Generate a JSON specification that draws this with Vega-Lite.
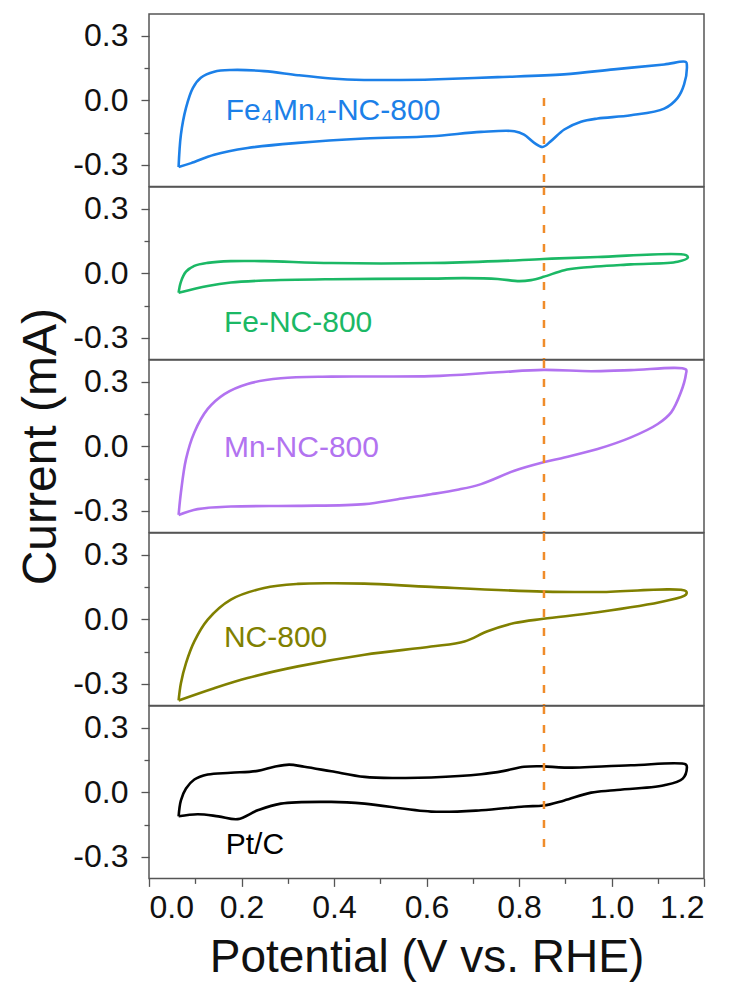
{
  "$schema": "https://vega.github.io/schema/vega-lite/v6.json",
  "background": "white",
  "padding": {"left": 17, "top": 13, "right": 28, "bottom": 4},
  "spacing": 0,
  "bounds": "flush",
  "config": {
    "font": "Liberation Sans",
    "view": {"stroke": "#555555", "strokeWidth": 1.5},
    "axis": {
      "domain": false,
      "grid": false,
      "ticks": true,
      "tickColor": "#555555",
      "tickWidth": 1.3,
      "labelFont": "Liberation Sans",
      "labelFontSize": 32,
      "labelColor": "#111111",
      "titleFont": "Liberation Sans",
      "titleFontSize": 46,
      "titleFontWeight": "normal",
      "titleColor": "#111111"
    },
    "axisY": {"labelPadding": 13, "titlePadding": 7, "titleFontSize": 48},
    "axisX": {"labelPadding": 6, "titlePadding": 12}
  },
  "datasets": {
    "cv": [
      {"s": "Fe4Mn4", "i": 0, "v": 0.064, "c": -0.31},
      {"s": "Fe4Mn4", "i": 1, "v": 0.069, "c": -0.16},
      {"s": "Fe4Mn4", "i": 2, "v": 0.080, "c": -0.036},
      {"s": "Fe4Mn4", "i": 3, "v": 0.095, "c": 0.057},
      {"s": "Fe4Mn4", "i": 4, "v": 0.112, "c": 0.104},
      {"s": "Fe4Mn4", "i": 5, "v": 0.141, "c": 0.132},
      {"s": "Fe4Mn4", "i": 6, "v": 0.177, "c": 0.140},
      {"s": "Fe4Mn4", "i": 7, "v": 0.249, "c": 0.135},
      {"s": "Fe4Mn4", "i": 8, "v": 0.322, "c": 0.116},
      {"s": "Fe4Mn4", "i": 9, "v": 0.394, "c": 0.101},
      {"s": "Fe4Mn4", "i": 10, "v": 0.465, "c": 0.094},
      {"s": "Fe4Mn4", "i": 11, "v": 0.538, "c": 0.094},
      {"s": "Fe4Mn4", "i": 12, "v": 0.610, "c": 0.096},
      {"s": "Fe4Mn4", "i": 13, "v": 0.754, "c": 0.107},
      {"s": "Fe4Mn4", "i": 14, "v": 0.897, "c": 0.120},
      {"s": "Fe4Mn4", "i": 15, "v": 1.005, "c": 0.143},
      {"s": "Fe4Mn4", "i": 16, "v": 1.114, "c": 0.166},
      {"s": "Fe4Mn4", "i": 17, "v": 1.161, "c": 0.177},
      {"s": "Fe4Mn4", "i": 18, "v": 1.163, "c": 0.160},
      {"s": "Fe4Mn4", "i": 19, "v": 1.157, "c": 0.073},
      {"s": "Fe4Mn4", "i": 20, "v": 1.143, "c": 0.011},
      {"s": "Fe4Mn4", "i": 21, "v": 1.114, "c": -0.039},
      {"s": "Fe4Mn4", "i": 22, "v": 1.042, "c": -0.070},
      {"s": "Fe4Mn4", "i": 23, "v": 0.970, "c": -0.085},
      {"s": "Fe4Mn4", "i": 24, "v": 0.934, "c": -0.100},
      {"s": "Fe4Mn4", "i": 25, "v": 0.898, "c": -0.136},
      {"s": "Fe4Mn4", "i": 26, "v": 0.869, "c": -0.190},
      {"s": "Fe4Mn4", "i": 27, "v": 0.851, "c": -0.217},
      {"s": "Fe4Mn4", "i": 28, "v": 0.833, "c": -0.198},
      {"s": "Fe4Mn4", "i": 29, "v": 0.811, "c": -0.160},
      {"s": "Fe4Mn4", "i": 30, "v": 0.790, "c": -0.144},
      {"s": "Fe4Mn4", "i": 31, "v": 0.718, "c": -0.147},
      {"s": "Fe4Mn4", "i": 32, "v": 0.610, "c": -0.167},
      {"s": "Fe4Mn4", "i": 33, "v": 0.466, "c": -0.178},
      {"s": "Fe4Mn4", "i": 34, "v": 0.322, "c": -0.198},
      {"s": "Fe4Mn4", "i": 35, "v": 0.213, "c": -0.222},
      {"s": "Fe4Mn4", "i": 36, "v": 0.141, "c": -0.253},
      {"s": "Fe4Mn4", "i": 37, "v": 0.091, "c": -0.292},
      {"s": "Fe4Mn4", "i": 38, "v": 0.064, "c": -0.31},

      {"s": "Fe", "i": 0, "v": 0.064, "c": -0.091},
      {"s": "Fe", "i": 1, "v": 0.069, "c": -0.040},
      {"s": "Fe", "i": 2, "v": 0.080, "c": 0.007},
      {"s": "Fe", "i": 3, "v": 0.098, "c": 0.034},
      {"s": "Fe", "i": 4, "v": 0.127, "c": 0.048},
      {"s": "Fe", "i": 5, "v": 0.177, "c": 0.056},
      {"s": "Fe", "i": 6, "v": 0.249, "c": 0.056},
      {"s": "Fe", "i": 7, "v": 0.394, "c": 0.047},
      {"s": "Fe", "i": 8, "v": 0.610, "c": 0.047},
      {"s": "Fe", "i": 9, "v": 0.754, "c": 0.056},
      {"s": "Fe", "i": 10, "v": 0.853, "c": 0.066},
      {"s": "Fe", "i": 11, "v": 0.970, "c": 0.075},
      {"s": "Fe", "i": 12, "v": 1.161, "c": 0.084},
      {"s": "Fe", "i": 13, "v": 1.165, "c": 0.072},
      {"s": "Fe", "i": 14, "v": 1.143, "c": 0.053},
      {"s": "Fe", "i": 15, "v": 1.042, "c": 0.041},
      {"s": "Fe", "i": 16, "v": 0.934, "c": 0.025},
      {"s": "Fe", "i": 17, "v": 0.898, "c": 0.014},
      {"s": "Fe", "i": 18, "v": 0.853, "c": -0.017},
      {"s": "Fe", "i": 19, "v": 0.826, "c": -0.032},
      {"s": "Fe", "i": 20, "v": 0.801, "c": -0.037},
      {"s": "Fe", "i": 21, "v": 0.754, "c": -0.027},
      {"s": "Fe", "i": 22, "v": 0.682, "c": -0.023},
      {"s": "Fe", "i": 23, "v": 0.610, "c": -0.025},
      {"s": "Fe", "i": 24, "v": 0.394, "c": -0.028},
      {"s": "Fe", "i": 25, "v": 0.249, "c": -0.034},
      {"s": "Fe", "i": 26, "v": 0.177, "c": -0.043},
      {"s": "Fe", "i": 27, "v": 0.127, "c": -0.059},
      {"s": "Fe", "i": 28, "v": 0.064, "c": -0.091},

      {"s": "Mn", "i": 0, "v": 0.064, "c": -0.319},
      {"s": "Mn", "i": 1, "v": 0.069, "c": -0.215},
      {"s": "Mn", "i": 2, "v": 0.080, "c": -0.060},
      {"s": "Mn", "i": 3, "v": 0.098, "c": 0.064},
      {"s": "Mn", "i": 4, "v": 0.127, "c": 0.173},
      {"s": "Mn", "i": 5, "v": 0.163, "c": 0.242},
      {"s": "Mn", "i": 6, "v": 0.213, "c": 0.289},
      {"s": "Mn", "i": 7, "v": 0.285, "c": 0.315},
      {"s": "Mn", "i": 8, "v": 0.394, "c": 0.323},
      {"s": "Mn", "i": 9, "v": 0.610, "c": 0.325},
      {"s": "Mn", "i": 10, "v": 0.754, "c": 0.343},
      {"s": "Mn", "i": 11, "v": 0.853, "c": 0.354},
      {"s": "Mn", "i": 12, "v": 0.956, "c": 0.348},
      {"s": "Mn", "i": 13, "v": 1.042, "c": 0.353},
      {"s": "Mn", "i": 14, "v": 1.161, "c": 0.356},
      {"s": "Mn", "i": 15, "v": 1.161, "c": 0.335},
      {"s": "Mn", "i": 16, "v": 1.150, "c": 0.250},
      {"s": "Mn", "i": 17, "v": 1.129, "c": 0.157},
      {"s": "Mn", "i": 18, "v": 1.100, "c": 0.103},
      {"s": "Mn", "i": 19, "v": 1.042, "c": 0.041},
      {"s": "Mn", "i": 20, "v": 0.970, "c": -0.013},
      {"s": "Mn", "i": 21, "v": 0.898, "c": -0.052},
      {"s": "Mn", "i": 22, "v": 0.853, "c": -0.075},
      {"s": "Mn", "i": 23, "v": 0.790, "c": -0.114},
      {"s": "Mn", "i": 24, "v": 0.718, "c": -0.176},
      {"s": "Mn", "i": 25, "v": 0.667, "c": -0.202},
      {"s": "Mn", "i": 26, "v": 0.610, "c": -0.223},
      {"s": "Mn", "i": 27, "v": 0.538, "c": -0.246},
      {"s": "Mn", "i": 28, "v": 0.466, "c": -0.269},
      {"s": "Mn", "i": 29, "v": 0.322, "c": -0.277},
      {"s": "Mn", "i": 30, "v": 0.177, "c": -0.280},
      {"s": "Mn", "i": 31, "v": 0.105, "c": -0.292},
      {"s": "Mn", "i": 32, "v": 0.064, "c": -0.319},

      {"s": "NC", "i": 0, "v": 0.064, "c": -0.377},
      {"s": "NC", "i": 1, "v": 0.069, "c": -0.297},
      {"s": "NC", "i": 2, "v": 0.080, "c": -0.204},
      {"s": "NC", "i": 3, "v": 0.098, "c": -0.103},
      {"s": "NC", "i": 4, "v": 0.127, "c": -0.002},
      {"s": "NC", "i": 5, "v": 0.177, "c": 0.091},
      {"s": "NC", "i": 6, "v": 0.249, "c": 0.145},
      {"s": "NC", "i": 7, "v": 0.322, "c": 0.164},
      {"s": "NC", "i": 8, "v": 0.394, "c": 0.167},
      {"s": "NC", "i": 9, "v": 0.466, "c": 0.165},
      {"s": "NC", "i": 10, "v": 0.610, "c": 0.150},
      {"s": "NC", "i": 11, "v": 0.853, "c": 0.128},
      {"s": "NC", "i": 12, "v": 0.970, "c": 0.126},
      {"s": "NC", "i": 13, "v": 1.161, "c": 0.130},
      {"s": "NC", "i": 14, "v": 1.161, "c": 0.114},
      {"s": "NC", "i": 15, "v": 1.114, "c": 0.083},
      {"s": "NC", "i": 16, "v": 0.970, "c": 0.032},
      {"s": "NC", "i": 17, "v": 0.853, "c": 0.002},
      {"s": "NC", "i": 18, "v": 0.790, "c": -0.018},
      {"s": "NC", "i": 19, "v": 0.732, "c": -0.056},
      {"s": "NC", "i": 20, "v": 0.682, "c": -0.103},
      {"s": "NC", "i": 21, "v": 0.610, "c": -0.127},
      {"s": "NC", "i": 22, "v": 0.466, "c": -0.165},
      {"s": "NC", "i": 23, "v": 0.322, "c": -0.219},
      {"s": "NC", "i": 24, "v": 0.213, "c": -0.273},
      {"s": "NC", "i": 25, "v": 0.141, "c": -0.320},
      {"s": "NC", "i": 26, "v": 0.064, "c": -0.377},

      {"s": "PtC", "i": 0, "v": 0.064, "c": -0.112},
      {"s": "PtC", "i": 1, "v": 0.069, "c": -0.038},
      {"s": "PtC", "i": 2, "v": 0.080, "c": 0.017},
      {"s": "PtC", "i": 3, "v": 0.098, "c": 0.059},
      {"s": "PtC", "i": 4, "v": 0.127, "c": 0.082},
      {"s": "PtC", "i": 5, "v": 0.177, "c": 0.090},
      {"s": "PtC", "i": 6, "v": 0.235, "c": 0.099},
      {"s": "PtC", "i": 7, "v": 0.271, "c": 0.118},
      {"s": "PtC", "i": 8, "v": 0.303, "c": 0.128},
      {"s": "PtC", "i": 9, "v": 0.336, "c": 0.118},
      {"s": "PtC", "i": 10, "v": 0.394, "c": 0.097},
      {"s": "PtC", "i": 11, "v": 0.466, "c": 0.071},
      {"s": "PtC", "i": 12, "v": 0.538, "c": 0.066},
      {"s": "PtC", "i": 13, "v": 0.610, "c": 0.068},
      {"s": "PtC", "i": 14, "v": 0.718, "c": 0.083},
      {"s": "PtC", "i": 15, "v": 0.768, "c": 0.099},
      {"s": "PtC", "i": 16, "v": 0.811, "c": 0.118},
      {"s": "PtC", "i": 17, "v": 0.853, "c": 0.120},
      {"s": "PtC", "i": 18, "v": 0.898, "c": 0.114},
      {"s": "PtC", "i": 19, "v": 1.042, "c": 0.125},
      {"s": "PtC", "i": 20, "v": 1.161, "c": 0.128},
      {"s": "PtC", "i": 21, "v": 1.163, "c": 0.114},
      {"s": "PtC", "i": 22, "v": 1.154, "c": 0.063},
      {"s": "PtC", "i": 23, "v": 1.114, "c": 0.032},
      {"s": "PtC", "i": 24, "v": 1.006, "c": 0.009},
      {"s": "PtC", "i": 25, "v": 0.956, "c": -0.002},
      {"s": "PtC", "i": 26, "v": 0.898, "c": -0.038},
      {"s": "PtC", "i": 27, "v": 0.853, "c": -0.062},
      {"s": "PtC", "i": 28, "v": 0.811, "c": -0.066},
      {"s": "PtC", "i": 29, "v": 0.718, "c": -0.084},
      {"s": "PtC", "i": 30, "v": 0.610, "c": -0.090},
      {"s": "PtC", "i": 31, "v": 0.466, "c": -0.053},
      {"s": "PtC", "i": 32, "v": 0.394, "c": -0.045},
      {"s": "PtC", "i": 33, "v": 0.285, "c": -0.053},
      {"s": "PtC", "i": 34, "v": 0.235, "c": -0.084},
      {"s": "PtC", "i": 35, "v": 0.192, "c": -0.125},
      {"s": "PtC", "i": 36, "v": 0.150, "c": -0.112},
      {"s": "PtC", "i": 37, "v": 0.105, "c": -0.102},
      {"s": "PtC", "i": 38, "v": 0.064, "c": -0.112}
    ],
    "labels": [
      {"s": "Fe4Mn4", "v": 0.166, "c": -0.09, "label": "Fe₄Mn₄-NC-800"},
      {"s": "Fe", "v": 0.162, "c": -0.273, "label": "Fe-NC-800"},
      {"s": "Mn", "v": 0.162, "c": -0.052, "label": "Mn-NC-800"},
      {"s": "NC", "v": 0.162, "c": -0.129, "label": "NC-800"},
      {"s": "PtC", "v": 0.166, "c": -0.289, "label": "Pt/C"}
    ],
    "guide": [
      {"s": "Fe4Mn4", "v": 0.854, "c": 0.01, "c2": -0.4},
      {"s": "Fe", "v": 0.854, "c": 0.4, "c2": -0.4},
      {"s": "Mn", "v": 0.854, "c": 0.4, "c2": -0.4},
      {"s": "NC", "v": 0.854, "c": 0.4, "c2": -0.4},
      {"s": "PtC", "v": 0.854, "c": 0.4, "c2": -0.262}
    ]
  },
  "vconcat": [
    {
      "width": 555, "height": 172.4,
      "encoding": {
        "x": {"field": "v", "type": "quantitative", "scale": {"domain": [0, 1.2], "nice": false}, "axis": null},
        "y": {"field": "c", "type": "quantitative", "scale": {"domain": [-0.4, 0.4], "nice": false}, "title": null,
          "axis": {"values": [-0.3, -0.15, 0, 0.15, 0.3], "labelExpr": "abs(datum.value) == 0.15 ? '' : (datum.value < 0 ? '-' : '') + format(abs(datum.value), '.1f')", "tickSize": {"condition": {"test": "abs(datum.value) == 0.15", "value": 5}, "value": 8}}}
      },
      "layer": [
        {"data": {"name": "cv"}, "transform": [{"filter": "datum.s === 'Fe4Mn4'"}],
         "mark": {"type": "line", "interpolate": "catmull-rom", "strokeWidth": 2.6, "color": "#1c80e8"},
         "encoding": {"order": {"field": "i", "type": "quantitative"}}},
        {"data": {"name": "labels"}, "transform": [{"filter": "datum.s === 'Fe4Mn4'"}],
         "mark": {"type": "text", "align": "left", "baseline": "alphabetic", "fontSize": 30, "font": "Liberation Sans", "color": "#1c80e8"},
         "encoding": {"text": {"field": "label"}}},
        {"data": {"name": "guide"}, "transform": [{"filter": "datum.s === 'Fe4Mn4'"}],
         "mark": {"type": "rule", "color": "#f08c2a", "strokeWidth": 2.5, "strokeDash": [8, 11]},
         "encoding": {"y2": {"field": "c2"}}}
      ]
    },
    {
      "width": 555, "height": 172.4,
      "encoding": {
        "x": {"field": "v", "type": "quantitative", "scale": {"domain": [0, 1.2], "nice": false}, "axis": null},
        "y": {"field": "c", "type": "quantitative", "scale": {"domain": [-0.4, 0.4], "nice": false}, "title": null,
          "axis": {"values": [-0.3, -0.15, 0, 0.15, 0.3], "labelExpr": "abs(datum.value) == 0.15 ? '' : (datum.value < 0 ? '-' : '') + format(abs(datum.value), '.1f')", "tickSize": {"condition": {"test": "abs(datum.value) == 0.15", "value": 5}, "value": 8}}}
      },
      "layer": [
        {"data": {"name": "cv"}, "transform": [{"filter": "datum.s === 'Fe'"}],
         "mark": {"type": "line", "interpolate": "catmull-rom", "strokeWidth": 2.6, "color": "#1bb865"},
         "encoding": {"order": {"field": "i", "type": "quantitative"}}},
        {"data": {"name": "labels"}, "transform": [{"filter": "datum.s === 'Fe'"}],
         "mark": {"type": "text", "align": "left", "baseline": "alphabetic", "fontSize": 30, "font": "Liberation Sans", "color": "#1bb865"},
         "encoding": {"text": {"field": "label"}}},
        {"data": {"name": "guide"}, "transform": [{"filter": "datum.s === 'Fe'"}],
         "mark": {"type": "rule", "color": "#f08c2a", "strokeWidth": 2.5, "strokeDash": [8, 11]},
         "encoding": {"y2": {"field": "c2"}}}
      ]
    },
    {
      "width": 555, "height": 172.4,
      "encoding": {
        "x": {"field": "v", "type": "quantitative", "scale": {"domain": [0, 1.2], "nice": false}, "axis": null},
        "y": {"field": "c", "type": "quantitative", "scale": {"domain": [-0.4, 0.4], "nice": false}, "title": "Current (mA)",
          "axis": {"values": [-0.3, -0.15, 0, 0.15, 0.3], "labelExpr": "abs(datum.value) == 0.15 ? '' : (datum.value < 0 ? '-' : '') + format(abs(datum.value), '.1f')", "tickSize": {"condition": {"test": "abs(datum.value) == 0.15", "value": 5}, "value": 8}}}
      },
      "layer": [
        {"data": {"name": "cv"}, "transform": [{"filter": "datum.s === 'Mn'"}],
         "mark": {"type": "line", "interpolate": "catmull-rom", "strokeWidth": 2.6, "color": "#b273f0"},
         "encoding": {"order": {"field": "i", "type": "quantitative"}}},
        {"data": {"name": "labels"}, "transform": [{"filter": "datum.s === 'Mn'"}],
         "mark": {"type": "text", "align": "left", "baseline": "alphabetic", "fontSize": 30, "font": "Liberation Sans", "color": "#b273f0"},
         "encoding": {"text": {"field": "label"}}},
        {"data": {"name": "guide"}, "transform": [{"filter": "datum.s === 'Mn'"}],
         "mark": {"type": "rule", "color": "#f08c2a", "strokeWidth": 2.5, "strokeDash": [8, 11]},
         "encoding": {"y2": {"field": "c2"}}}
      ]
    },
    {
      "width": 555, "height": 172.4,
      "encoding": {
        "x": {"field": "v", "type": "quantitative", "scale": {"domain": [0, 1.2], "nice": false}, "axis": null},
        "y": {"field": "c", "type": "quantitative", "scale": {"domain": [-0.4, 0.4], "nice": false}, "title": null,
          "axis": {"values": [-0.3, -0.15, 0, 0.15, 0.3], "labelExpr": "abs(datum.value) == 0.15 ? '' : (datum.value < 0 ? '-' : '') + format(abs(datum.value), '.1f')", "tickSize": {"condition": {"test": "abs(datum.value) == 0.15", "value": 5}, "value": 8}}}
      },
      "layer": [
        {"data": {"name": "cv"}, "transform": [{"filter": "datum.s === 'NC'"}],
         "mark": {"type": "line", "interpolate": "catmull-rom", "strokeWidth": 2.6, "color": "#808000"},
         "encoding": {"order": {"field": "i", "type": "quantitative"}}},
        {"data": {"name": "labels"}, "transform": [{"filter": "datum.s === 'NC'"}],
         "mark": {"type": "text", "align": "left", "baseline": "alphabetic", "fontSize": 30, "font": "Liberation Sans", "color": "#808000"},
         "encoding": {"text": {"field": "label"}}},
        {"data": {"name": "guide"}, "transform": [{"filter": "datum.s === 'NC'"}],
         "mark": {"type": "rule", "color": "#f08c2a", "strokeWidth": 2.5, "strokeDash": [8, 11]},
         "encoding": {"y2": {"field": "c2"}}}
      ]
    },
    {
      "width": 555, "height": 172.4,
      "encoding": {
        "x": {"field": "v", "type": "quantitative", "scale": {"domain": [0, 1.2], "nice": false}, "title": "Potential (V vs. RHE)",
          "axis": {"values": [0, 0.1, 0.2, 0.3, 0.4, 0.5, 0.6, 0.7, 0.8, 0.9, 1.0, 1.1, 1.2], "labelExpr": "round(datum.value * 10) % 2 == 1 ? '' : format(datum.value, '.1f')", "tickSize": {"condition": {"test": "round(datum.value * 10) % 2 == 1", "value": 5}, "value": 8}}},
        "y": {"field": "c", "type": "quantitative", "scale": {"domain": [-0.4, 0.4], "nice": false}, "title": null,
          "axis": {"values": [-0.3, -0.15, 0, 0.15, 0.3], "labelExpr": "abs(datum.value) == 0.15 ? '' : (datum.value < 0 ? '-' : '') + format(abs(datum.value), '.1f')", "tickSize": {"condition": {"test": "abs(datum.value) == 0.15", "value": 5}, "value": 8}}}
      },
      "layer": [
        {"data": {"name": "cv"}, "transform": [{"filter": "datum.s === 'PtC'"}],
         "mark": {"type": "line", "interpolate": "catmull-rom", "strokeWidth": 2.6, "color": "#000000"},
         "encoding": {"order": {"field": "i", "type": "quantitative"}}},
        {"data": {"name": "labels"}, "transform": [{"filter": "datum.s === 'PtC'"}],
         "mark": {"type": "text", "align": "left", "baseline": "alphabetic", "fontSize": 30, "font": "Liberation Sans", "color": "#000000"},
         "encoding": {"text": {"field": "label"}}},
        {"data": {"name": "guide"}, "transform": [{"filter": "datum.s === 'PtC'"}],
         "mark": {"type": "rule", "color": "#f08c2a", "strokeWidth": 2.5, "strokeDash": [8, 11]},
         "encoding": {"y2": {"field": "c2"}}}
      ]
    }
  ]
}
